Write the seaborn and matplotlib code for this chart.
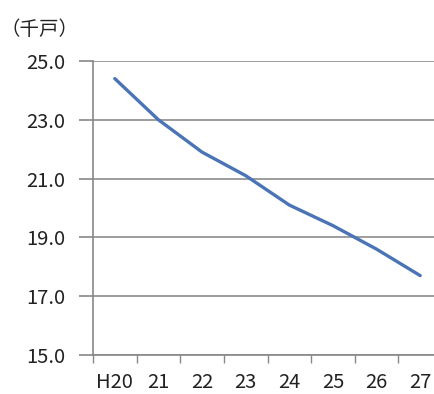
import matplotlib
matplotlib.use('Agg')
import matplotlib.pyplot as plt
import seaborn as sns
import pandas as pd
import numpy as np

years = ['H20', '21', '22', '23', '24', '25', '26', '27']
households = [24.4, 23.0, 21.9, 21.1, 20.1, 19.4, 18.6, 17.7]
y_ticks = [15.0, 17.0, 19.0, 21.0, 23.0, 25.0]

sns.set_style('white')
plt.rcParams['font.family'] = ['Noto Sans CJK JP', 'DejaVu Sans']

df = pd.DataFrame({'year': years, 'value': households})

fig = plt.figure(figsize=(4.35, 3.94), dpi=100)
ax = fig.add_axes([0.2138, 0.099, 0.8023, 0.7462])

sns.lineplot(data=df, x='year', y='value', ax=ax, color='#4a74b6', linewidth=2.4, sort=False)

ax.set_xlim(-0.5, len(years) - 0.5)
ax.set_ylim(15, 25)
ax.set_yticks(y_ticks)
ax.set_yticklabels([f'{v:.1f}' for v in y_ticks], fontsize=14.5, color='#222222')
ax.set_xticks(range(len(years)))
ax.set_xticklabels(years, fontsize=14.5, color='#222222')
ax.set_xticks(np.arange(-0.5, len(years), 1), minor=True)
ax.tick_params(axis='x', which='major', bottom=True, length=0, pad=12)
ax.tick_params(axis='x', which='minor', bottom=True, length=6, width=1, color='#888888', direction='out')
ax.tick_params(axis='y', left=True, length=10, width=1.2, color='#888888', direction='out', pad=10)
ax.yaxis.grid(True, color='#8c8c8c', linewidth=1.2)
ax.set_axisbelow(True)
ax.set_xlabel('')
ax.set_ylabel('')

for side in ['top', 'right']:
    ax.spines[side].set_visible(False)
ax.spines['left'].set_color('#888888')
ax.spines['bottom'].set_color('#888888')
ax.spines['left'].set_linewidth(1.2)
ax.spines['bottom'].set_linewidth(1.2)

fig.text(0.0, 0.924, '（千戸）', fontsize=14, color='#222222', va='center', ha='left')

fig.savefig('out.png', dpi=100)
